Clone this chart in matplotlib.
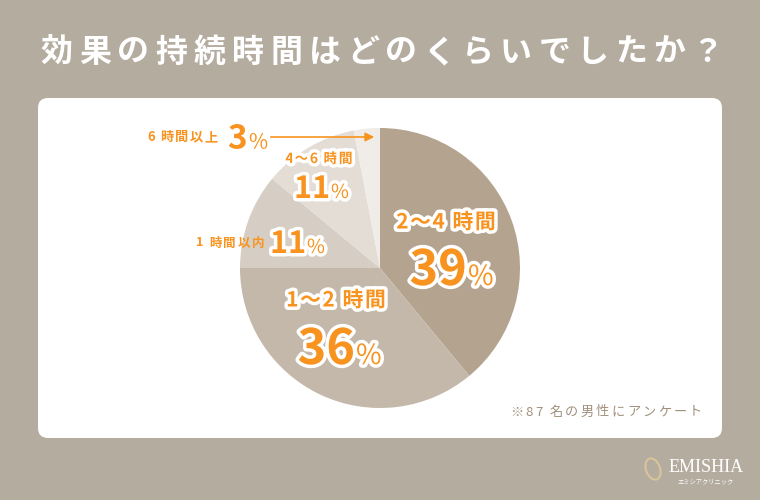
import matplotlib
matplotlib.use("Agg")
import matplotlib.pyplot as plt
import matplotlib.patheffects as pe
from matplotlib.patches import FancyBboxPatch, Ellipse

plt.rcParams['font.family'] = ['Noto Sans CJK JP', 'DejaVu Sans']

title = "効果の持続時間はどのくらいでしたか？"
labels = ["2～4 時間", "1～2 時間", "1 時間以内", "4～6 時間", "6 時間以上"]
values = [39, 36, 11, 11, 3]
colors = ["#b4a48f", "#c4b8aa", "#d6cec4", "#e3ddd5", "#f0ede9"]
note = "※87 名の男性にアンケート"

ORANGE = "#f7931e"
BG = "#b5aca0"
W, H = 760, 500

fig = plt.figure(figsize=(W / 100, H / 100), dpi=100, facecolor=BG)
renderer = fig.canvas.get_renderer()

# background + white card
bg = fig.add_axes([0, 0, 1, 1])
bg.set_xlim(0, W)
bg.set_ylim(H, 0)
bg.axis("off")
bg.add_patch(FancyBboxPatch((38, 98), 684, 340, boxstyle="round,pad=0,rounding_size=10",
                            fc="white", ec="none"))

# pie: center (380, 268), radius 140 px
cx, cy, r = 380, 268, 140
pax = fig.add_axes([(cx - r) / W, (H - cy - r) / H, 2 * r / W, 2 * r / H])
pax.pie(values, colors=colors, startangle=90, counterclock=False,
        wedgeprops=dict(linewidth=0))
pax.set_xlim(-1, 1)
pax.set_ylim(-1, 1)

# overlay for text (1 data unit = 1 px)
tx = fig.add_axes([0, 0, 1, 1])
tx.set_xlim(0, W)
tx.set_ylim(H, 0)
tx.axis("off")
tx.patch.set_alpha(0)


def spaced(x, y, s, track, ha="left", **kw):
    """Draw string char by char with extra letter spacing."""
    texts = [tx.text(0, y, ch, ha="left", va="center", **kw) for ch in s]
    widths = [t.get_window_extent(renderer).width for t in texts]
    total = sum(widths) + track * (len(s) - 1)
    start = {"left": x, "center": x - total / 2, "right": x - total}[ha]
    for t, w in zip(texts, widths):
        t.set_x(start)
        start += w + track


spaced(W / 2 + 2, 53, title, 6.3, ha="center", color="white", fontsize=23,
       fontweight="bold")

stroke = [pe.withStroke(linewidth=5, foreground="white")]


def pct(x, y, v, size, psize, outline=True):
    kw = dict(color=ORANGE, va="baseline")
    if outline:
        kw["path_effects"] = stroke
    tx.text(x, y, str(v), fontsize=size, ha="right", fontweight="bold", **kw)
    tx.text(x + 1, y, "%", fontsize=psize, ha="left", **kw)


# 2～4 時間 39%
spaced(446, 222, labels[0], 1.5, ha="center", color=ORANGE, fontsize=15,
       fontweight="bold", path_effects=stroke)
pct(467, 285, values[0], 35, 20)

# 1～2 時間 36%
spaced(336, 300, labels[1], 1.5, ha="center", color=ORANGE, fontsize=15,
       fontweight="bold", path_effects=stroke)
pct(355, 364, values[1], 35, 20)

# 1 時間以内 11%
spaced(264, 243, labels[2], 1.5, ha="right", color=ORANGE, fontsize=9,
       fontweight="bold")
pct(306, 253, values[2], 22, 14)

# 4～6 時間 11%
spaced(319, 159, labels[3], 1.2, ha="center", color=ORANGE, fontsize=10,
       fontweight="bold", path_effects=stroke)
pct(330, 198, values[3], 22, 14)

# 6 時間以上 3% with arrow
spaced(218, 137, labels[4], 1.5, ha="right", color=ORANGE, fontsize=9.5,
       fontweight="bold")
pct(247, 149, values[4], 24, 15, outline=False)
tx.annotate("", xy=(377, 137), xytext=(268, 137),
            arrowprops=dict(arrowstyle="-|>", color=ORANGE, lw=1.2, mutation_scale=13))

# note
spaced(702, 412, note, 2.2, ha="right", color="#a0907c", fontsize=9.5)

# logo
tx.add_patch(Ellipse((653, 469), 14, 22, angle=-20, fc="none", ec="#d8c49a", lw=1.5))
tx.text(706, 467, "EMISHIA", color="white", fontsize=13, ha="center", va="center",
        family=["Liberation Serif", "DejaVu Serif"])
tx.text(706, 481, "エミシアクリニック", color="white", fontsize=4.5, ha="center", va="center")

fig.savefig("out.png", dpi=100, facecolor=BG)
